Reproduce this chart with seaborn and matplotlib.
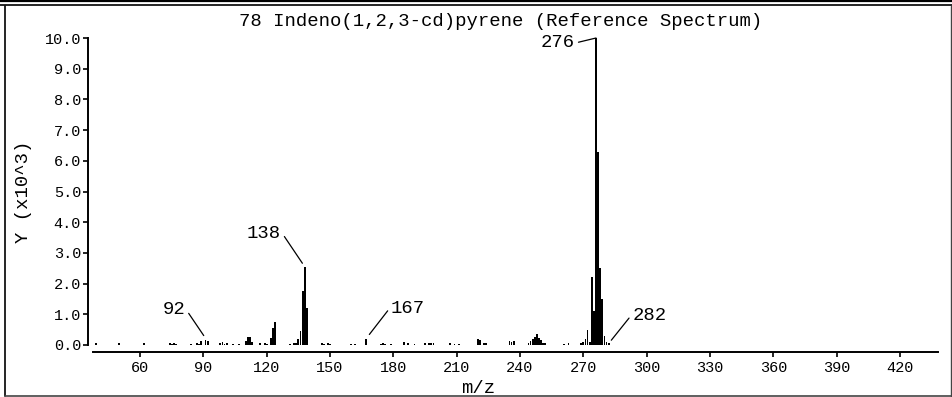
import matplotlib
matplotlib.use("Agg")
import matplotlib.pyplot as plt
import seaborn as sns
import pandas as pd
from matplotlib.lines import Line2D

# ---------------- data ----------------
title_text = "78 Indeno(1,2,3-cd)pyrene (Reference Spectrum)"
x_label = "m/z"
y_label = "Y (x10^3)"

mz = [39, 50, 62, 74, 75, 76, 77, 84, 87, 88, 89, 91, 92, 98, 99, 100, 101,
      104, 107, 110, 111, 112, 113, 117, 119, 120, 122, 123, 124, 131, 133,
      134, 135, 136, 137, 138, 139, 146, 147, 149, 150, 160, 162, 167, 174,
      175, 176, 179, 185, 187, 190, 195, 197, 198, 199, 207, 209, 211, 220,
      221, 223, 224, 235, 236, 237, 244, 245, 246, 247, 248, 249, 250, 251,
      252, 261, 263, 269, 270, 271, 272, 273, 274, 275, 276, 277, 278, 279,
      280, 281, 282]
intensity = [0.05, 0.05, 0.06, 0.06, 0.04, 0.05, 0.04, 0.04, 0.08, 0.04, 0.12,
             0.15, 0.12, 0.08, 0.10, 0.04, 0.05, 0.03, 0.04, 0.12, 0.27, 0.25,
             0.10, 0.05, 0.06, 0.04, 0.22, 0.55, 0.75, 0.04, 0.05, 0.08, 0.20,
             0.45, 1.75, 2.55, 1.20, 0.05, 0.04, 0.05, 0.04, 0.03, 0.04, 0.20,
             0.04, 0.05, 0.04, 0.04, 0.10, 0.05, 0.04, 0.05, 0.08, 0.08, 0.05,
             0.05, 0.04, 0.03, 0.20, 0.15, 0.08, 0.06, 0.12, 0.10, 0.12, 0.05,
             0.12, 0.18, 0.25, 0.35, 0.22, 0.15, 0.08, 0.05, 0.04, 0.05, 0.05,
             0.10, 0.20, 0.50, 0.10, 2.20, 1.10, 10.0, 6.30, 2.50, 1.50, 0.30,
             0.10, 0.05]

labelled_peaks = [92, 138, 167, 276, 282]
x_ticks = [60, 90, 120, 150, 180, 210, 240, 270, 300, 330, 360, 390, 420]
y_ticks = [0, 1, 2, 3, 4, 5, 6, 7, 8, 9, 10]
y_tick_labels = ["0.0", "1.0", "2.0", "3.0", "4.0", "5.0", "6.0", "7.0",
                 "8.0", "9.0", "10.0"]

# ---------------- style ----------------
sns.set_theme(style="ticks")
plt.rcParams["font.family"] = ["Liberation Mono", "DejaVu Sans Mono"]
FS = 13.6

W, H = 953, 397
fig = plt.figure(figsize=(W / 100, H / 100), dpi=100)
fig.patch.set_facecolor("white")
ax = fig.add_axes([93 / W, 52 / H, 845 / W, 307 / H])
ax.set_facecolor("white")

df = pd.DataFrame({"mz": mz, "intensity": intensity})
sns.barplot(data=df, x="mz", y="intensity", native_scale=True, color="black",
            saturation=1, width=0.85, linewidth=0, errorbar=None, ax=ax)

ax.set_xlim(37.7, 438)
ax.set_ylim(0, 10)
ax.set_xticks(x_ticks)
ax.set_xticklabels([str(t) for t in x_ticks], fontsize=FS)
ax.set_yticks(y_ticks)
ax.set_yticklabels(y_tick_labels, fontsize=FS)

for s in ["top", "right"]:
    ax.spines[s].set_visible(False)
ax.spines["left"].set_position(("outward", 3.6))
ax.spines["bottom"].set_position(("outward", 5))
for s in ["left", "bottom"]:
    ax.spines[s].set_linewidth(1.4)
    ax.spines[s].set_color("black")
ax.tick_params(axis="y", direction="out", length=3.5, width=1.2, pad=1.5,
               colors="black")
ax.tick_params(axis="x", direction="out", length=3.5, width=1.2, pad=3,
               colors="black")
ax.grid(False)

ax.set_xlabel(x_label, fontsize=FS, color="black")
ax.set_ylabel(y_label, fontsize=FS, color="black")
ax.xaxis.set_label_coords(0.456, -0.115)
ax.yaxis.set_label_coords(-0.072, 0.5)
ax.set_title(title_text, fontsize=FS, color="black", pad=9, x=0.482)

# ---------------- peak labels ----------------
# (dx pt, dy pt, ha, relpos on text box, gap at peak in pt)
placement = {92: (-16, 23, "right", (1.0, 0.55), 5),
             138: (-17, 24, "right", (1.0, 0.6), 3),
             167: (18, 22, "left", (0.0, 0.6), 4),
             276: (-15, -3, "right", (1.0, 0.45), 0),
             282: (17, 20, "left", (0.0, 0.6), 3)}
for p in labelled_peaks:
    v = intensity[mz.index(p)]
    dx, dy, ha, rp, gap = placement[p]
    ax.annotate(str(p), xy=(p, v), xytext=(dx, dy), textcoords="offset points",
                ha=ha, va="center", fontsize=FS, color="black",
                arrowprops=dict(arrowstyle="-", color="black", lw=0.9,
                                relpos=rp, shrinkA=0, shrinkB=gap),
                annotation_clip=False)

# ---------------- outer frame ----------------
def fline(x0, y0, x1, y1, lw, c="black"):
    fig.add_artist(Line2D([x0 / W, x1 / W], [1 - y0 / H, 1 - y1 / H],
                          transform=fig.transFigure, color=c, lw=lw))

fline(0, 1, W, 1, 1.6)
fline(0, 5, W, 5, 1.2)
fline(5.5, 6, 5.5, 396, 1.2)
fline(5, 395.5, W, 395.5, 1.2, "#444444")
fline(951.5, 6, 951.5, 396, 1.0, "#444444")

fig.savefig("out.png", dpi=100, facecolor="white")
